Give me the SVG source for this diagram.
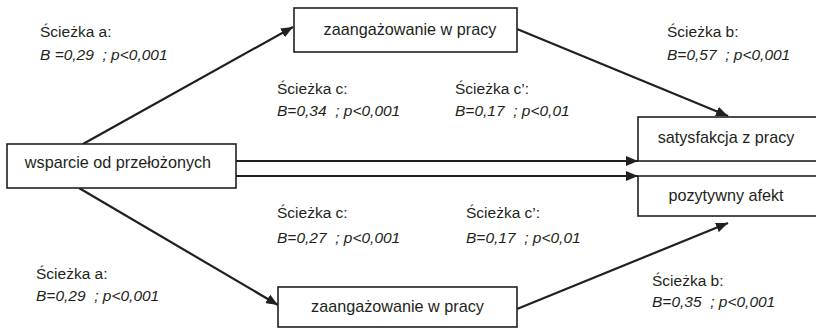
<svg xmlns="http://www.w3.org/2000/svg" width="816" height="330" viewBox="0 0 816 330">
<style>
.box{fill:#fff;stroke:#231f20;stroke-width:1.6}
.t{font-family:"Liberation Sans",Arial,sans-serif;font-size:16.2px;fill:#231f20}
.lbl{font-family:"Liberation Sans",Arial,sans-serif;font-size:15.5px;fill:#231f20;white-space:pre}
.it{font-style:italic}
.c{stroke:#231f20;stroke-width:2.2;fill:none;marker-end:url(#ah)}
</style>
<defs>
<marker id="ah" viewBox="0 0 12 10" refX="12" refY="5" markerWidth="12" markerHeight="10" markerUnits="userSpaceOnUse" orient="auto">
<path d="M0,0 L12,5 L0,10 Z" fill="#231f20"/>
</marker>
</defs>
<rect width="816" height="330" fill="#fff"/>
<g id="connectors">
<line class="c" x1="83" y1="144" x2="293" y2="27"/>
<line class="c" x1="517" y1="29" x2="728" y2="116"/>
<line class="c" x1="236" y1="161" x2="638" y2="161"/>
<line class="c" x1="236" y1="176" x2="638" y2="176"/>
<line class="c" x1="79" y1="188" x2="278" y2="305"/>
<line class="c" x1="517" y1="309" x2="728" y2="223"/>
</g>
<g id="node-support">
<rect class="box" x="7" y="144" width="229" height="44"/>
<text class="t" x="118" y="168" text-anchor="middle">wsparcie od przełożonych</text>
</g>
<g id="node-engagement-top">
<rect class="box" x="294" y="8" width="223" height="44"/>
<text class="t" x="410" y="35" text-anchor="middle">zaangażowanie w pracy</text>
</g>
<g id="node-engagement-bottom">
<rect class="box" x="278" y="287" width="239" height="40"/>
<text class="t" x="397.5" y="312" text-anchor="middle">zaangażowanie w pracy</text>
</g>
<g id="node-satisfaction">
<rect class="box" x="638" y="117" width="190" height="44"/>
<text class="t" x="726" y="143" text-anchor="middle">satysfakcja z pracy</text>
</g>
<g id="node-affect">
<rect class="box" x="638" y="176" width="190" height="40"/>
<text class="t" x="726" y="201" text-anchor="middle">pozytywny afekt</text>
</g>
<g id="labels">
<text class="lbl" x="40" y="37">Ścieżka a:</text>
<text class="lbl it" x="40" y="60">B =0,29  ; p&lt;0,001</text>
<text class="lbl" x="667" y="37">Ścieżka b:</text>
<text class="lbl it" x="667" y="60">B=0,57  ; p&lt;0,001</text>
<text class="lbl" x="277" y="94">Ścieżka c:</text>
<text class="lbl it" x="277" y="116">B=0,34  ; p&lt;0,001</text>
<text class="lbl" x="455" y="94">Ścieżka c’:</text>
<text class="lbl it" x="455" y="116">B=0,17  ; p&lt;0,01</text>
<text class="lbl" x="277" y="218">Ścieżka c:</text>
<text class="lbl it" x="277" y="243">B=0,27  ; p&lt;0,001</text>
<text class="lbl" x="466" y="218">Ścieżka c’:</text>
<text class="lbl it" x="466" y="243">B=0,17  ; p&lt;0,01</text>
<text class="lbl" x="36" y="279">Ścieżka a:</text>
<text class="lbl it" x="36" y="301">B=0,29  ; p&lt;0,001</text>
<text class="lbl" x="652" y="286">Ścieżka b:</text>
<text class="lbl it" x="652" y="307">B=0,35  ; p&lt;0,001</text>
</g>
</svg>
